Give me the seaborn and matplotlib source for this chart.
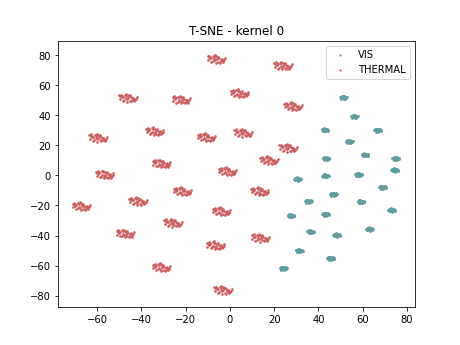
import matplotlib
matplotlib.use("Agg")
import matplotlib.pyplot as plt
import seaborn as sns
import pandas as pd

# Cluster centres
thermal_x = [-6.0, 4.5, -45.9, -21.8, 24.1, 28.6, -59.4, -33.8, -10.5, 6.1, 26.4, 17.8, -56.4,
             -30.8, -1.0, -67.0, -41.4, -21.3, 13.6, -3.7, -25.6, -47.1, -6.3, 13.9, -30.8, -3.0]
thermal_y = [77.6, 54.8, 51.7, 50.6, 73.2, 46.2, 25.2, 29.5, 25.6, 28.5, 18.5, 10.3, 0.8,
             8.1, 3.0, -20.3, -16.9, -10.3, -10.3, -23.6, -31.3, -38.4, -46.3, -41.3, -60.8, -76.0]
vis_x = [51.2, 56.2, 42.9, 66.8, 53.8, 61.0, 43.4, 74.9, 74.5, 58.1, 43.1, 30.5, 69.0,
         46.7, 35.4, 59.2, 43.3, 27.6, 73.1, 36.5, 48.2, 63.0, 31.3, 45.5, 24.1]
vis_y = [51.7, 39.1, 30.2, 30.0, 22.5, 13.6, 11.2, 11.2, 3.5, 0.5, -0.3, -2.5, -8.0,
         -12.5, -17.3, -17.6, -25.8, -26.9, -23.1, -37.5, -39.7, -35.7, -50.1, -55.2, -61.8]

# Hand-read shape of a cluster (offsets around its centre)
thermal_dx = [-4.0, -3.5, -3.2, -2.8, -2.5, -3.0, -1.5, -1.0, -0.8, -0.2, 0.3, 0.8, 1.2, 1.8, 2.3,
              2.6, 3.1, 3.5, 2.0, 2.8, -1.2, -0.6, 0.0, -1.8, -2.4, 0.6, 1.4, -0.4, 3.8, -3.8]
thermal_dy = [1.5, 1.0, 2.0, 1.2, 0.5, 0.2, 1.8, 1.2, 2.4, 1.6, 0.8, 1.4, 0.2, -0.6, -0.2,
              -1.0, -1.5, -0.8, -1.8, -2.3, -0.5, -1.2, -0.4, -1.6, -2.2, -2.0, -2.6, -2.8, 0.5, -1.0]
vis_dx = [-1.5, -1.2, -1.0, -0.7, -0.5, -0.3, 0.0, 0.2, 0.4, 0.6, 0.8, 1.0, 1.2, 1.4, -0.2,
          0.3, -0.9, 1.6, 0.0, 0.5]
vis_dy = [0.2, 0.6, -0.3, 0.9, 0.1, -0.6, 0.5, -0.2, 0.8, -0.7, 0.3, -0.1, 0.6, -0.4, 1.1,
          -1.0, -0.9, 0.1, 0.0, 0.2]

rows = []
for cx, cy in zip(vis_x, vis_y):
    for dx, dy in zip(vis_dx, vis_dy):
        rows.append(("VIS", cx + dx, cy + dy))
for cx, cy in zip(thermal_x, thermal_y):
    for dx, dy in zip(thermal_dx, thermal_dy):
        rows.append(("THERMAL", cx + dx, cy + dy))
df = pd.DataFrame(rows, columns=["domain", "x", "y"])

fig, ax = plt.subplots(figsize=(6.4, 4.8), dpi=72)
sns.scatterplot(data=df[df.domain == "VIS"], x="x", y="y", color="cadetblue", s=8,
                linewidth=0, ax=ax, label="VIS")
sns.scatterplot(data=df[df.domain == "THERMAL"], x="x", y="y", color="indianred", s=7,
                linewidth=0, ax=ax, label="THERMAL")
ax.set_xlim(-77.8, 83.5)
ax.set_ylim(-87.5, 89.4)
ax.set_xticks([-60, -40, -20, 0, 20, 40, 60, 80])
ax.set_yticks([-80, -60, -40, -20, 0, 20, 40, 60, 80])
ax.set_xlabel("")
ax.set_ylabel("")
ax.set_title("T-SNE - kernel 0")
ax.legend(loc="upper right", markerscale=0.8)
fig.savefig("out.png", dpi=72)
